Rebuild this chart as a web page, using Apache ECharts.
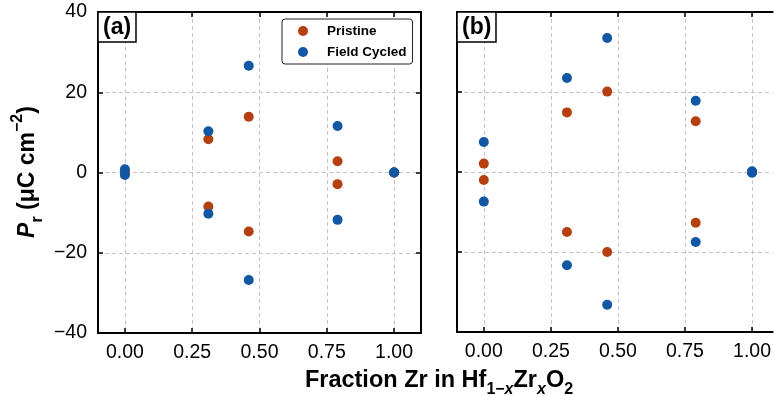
<!DOCTYPE html>
<html>
<head>
<meta charset="utf-8">
<script src="https://cdn.jsdelivr.net/npm/echarts@6/dist/echarts.min.js"></script>
<style>
  html, body { margin: 0; padding: 0; background: #fff; }
  #chart { width: 774px; height: 396px; }
</style>
</head>
<body>
<div id="chart"></div>
<script>
// Zr fraction x in Hf(1-x)Zr(x)O2
const zrFraction = [0, 0.31, 0.46, 0.79, 1.0]

// panel (a), +Pr and -Pr
const pristineA_pos = [0.3, 8.3, 13.9, 2.8, 0]
const pristineA_neg = [-0.3, -8.5, -14.7, -2.9, 0]
const cycledA_pos = [0.8, 10.3, 26.6, 11.6, 0]
const cycledA_neg = [-0.6, -10.3, -26.8, -11.8, 0]

// panel (b)
const pristineB_pos = [2.1, 14.9, 20.1, 12.7, 0]
const pristineB_neg = [-2.0, -15.0, -20.0, -12.7, 0]
const cycledB_pos = [7.5, 23.5, 33.5, 17.8, 0.2]
const cycledB_neg = [-7.4, -23.3, -33.2, -17.5, -0.2]

const xTicks = [0, 0.25, 0.5, 0.75, 1.0]

const PRISTINE = '#b5400f'
const CYCLED = '#1157a4'
const FONT = 'Liberation Sans, Arial, sans-serif'

const toPoints = (pos, neg) =>
  zrFraction.map((x, i) => [x, pos[i]]).concat(zrFraction.map((x, i) => [x, neg[i]]))

const tickStyle = (show) => ({ show: show, inside: true, length: 5, lineStyle: { color: '#000', width: 1.5 } })
const frameLine = (show) => ({ show: show, onZero: false, lineStyle: { color: '#000', width: 2 } })
const gridDash = { color: '#c4c4c4', type: [4, 3], width: 1 }

// panel b is cut by the right edge of the picture, so its range stops early
const makeX = (grid, position, labels, max) => ({
  type: 'value',
  gridIndex: grid,
  position: position,
  min: -0.1,
  max: max,
  axisLine: frameLine(true),
  axisTick: Object.assign({ customValues: xTicks }, tickStyle(true)),
  axisLabel: {
    show: labels,
    customValues: xTicks,
    formatter: (v) => v.toFixed(2),
    color: '#000',
    fontFamily: FONT,
    fontSize: 19.5,
    margin: 10,
  },
  splitLine: { show: position === 'bottom', lineStyle: gridDash },
})

const makeY = (grid, position, labels, line) => ({
  type: 'value',
  gridIndex: grid,
  position: position,
  min: -40,
  max: 40,
  interval: 20,
  axisLine: frameLine(line),
  axisTick: tickStyle(line),
  axisLabel: {
    show: labels,
    formatter: (v) => (v < 0 ? '\u2212' + Math.abs(v) : String(v)),
    color: '#000',
    fontFamily: FONT,
    fontSize: 19.5,
    margin: 11,
  },
  splitLine: { show: position === 'left', lineStyle: gridDash },
})

const scatter = (name, color, grid, data) => ({
  name: name,
  type: 'scatter',
  xAxisIndex: grid * 2,
  yAxisIndex: grid * 2,
  symbolSize: 10,
  itemStyle: { color: color, opacity: 1 },
  data: data,
})

const panelTag = (text, left) => ({
  text: text,
  left: left,
  top: 12,
  padding: [4, 5, 3, 5],
  borderColor: '#000',
  borderWidth: 1.5,
  backgroundColor: '#fff',
  textStyle: { fontFamily: FONT, fontSize: 23, fontWeight: 'bold', color: '#000' },
})

const chart = echarts.init(document.getElementById('chart'), null, { renderer: 'canvas' })

chart.setOption({
  backgroundColor: '#fff',
  animation: false,
  title: [panelTag('(a)', 98), panelTag('(b)', 457)],
  grid: [
    { left: 98, top: 12, width: 323, height: 321 },
    { left: 457, top: 12, width: 317, height: 320 },
  ],
  xAxis: [
    makeX(0, 'bottom', true, 1.1),
    makeX(0, 'top', false, 1.1),
    makeX(1, 'bottom', true, 1.077),
    makeX(1, 'top', false, 1.077),
  ],
  yAxis: [
    makeY(0, 'left', true, true),
    makeY(0, 'right', false, true),
    makeY(1, 'left', false, true),
    makeY(1, 'right', false, false),
  ],
  legend: {
    data: ['Pristine', 'Field Cycled'],
    orient: 'vertical',
    left: 282,
    top: 19,
    icon: 'circle',
    itemWidth: 38,
    itemHeight: 10,
    itemGap: 7,
    padding: [5, 6, 5, 16],
    borderColor: '#222',
    borderWidth: 1,
    borderRadius: 3,
    backgroundColor: '#fff',
    textStyle: { fontFamily: FONT, fontSize: 13.5, fontWeight: 'bold', color: '#000' },
  },
  graphic: [
    {
      type: 'text',
      x: 439,
      y: 381,
      style: {
        text: 'Fraction Zr in Hf{s|1\u2212}{si|x}Zr{si|x}O{s|2}',
        fontFamily: FONT,
        fontSize: 23.5,
        fontWeight: 'bold',
        fill: '#000',
        lineHeight: 34,
        textAlign: 'center',
        textVerticalAlign: 'middle',
        rich: {
          s: { fontFamily: FONT, fontSize: 16, fontWeight: 'bold', verticalAlign: 'bottom', lineHeight: 16 },
          si: { fontFamily: FONT, fontSize: 16, fontWeight: 'bold', fontStyle: 'italic', verticalAlign: 'bottom', lineHeight: 16 },
        },
      },
    },
    {
      type: 'text',
      x: 28,
      y: 172,
      rotation: Math.PI / 2,
      style: {
        text: '{p|P}{s|r} (\u03bcC cm{u|\u22122})',
        fontFamily: FONT,
        fontSize: 23,
        fontWeight: 'bold',
        fill: '#000',
        lineHeight: 36,
        textAlign: 'center',
        textVerticalAlign: 'middle',
        rich: {
          p: { fontFamily: FONT, fontSize: 23, fontWeight: 'bold', fontStyle: 'italic', lineHeight: 36 },
          s: { fontFamily: FONT, fontSize: 16, fontWeight: 'bold', verticalAlign: 'bottom', lineHeight: 16 },
          u: { fontFamily: FONT, fontSize: 16, fontWeight: 'bold', verticalAlign: 'top', lineHeight: 16 },
        },
      },
    },
  ],
  series: [
    scatter('Pristine', PRISTINE, 0, toPoints(pristineA_pos, pristineA_neg)),
    scatter('Field Cycled', CYCLED, 0, toPoints(cycledA_pos, cycledA_neg)),
    scatter('Pristine', PRISTINE, 1, toPoints(pristineB_pos, pristineB_neg)),
    scatter('Field Cycled', CYCLED, 1, toPoints(cycledB_pos, cycledB_neg)),
  ],
})
</script>
</body>
</html>
